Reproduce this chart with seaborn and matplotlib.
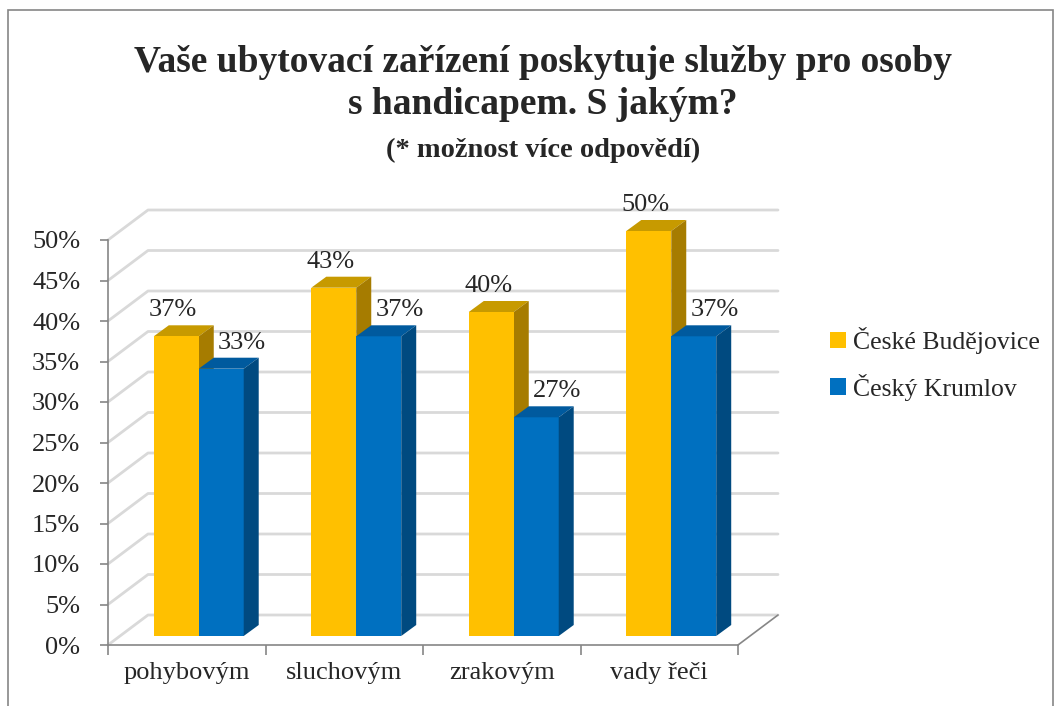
import numpy as np
import pandas as pd
import seaborn as sns
import matplotlib.pyplot as plt
from matplotlib.patches import Polygon, Patch, Rectangle

# data
categories = ["pohybovým", "sluchovým", "zrakovým", "vady řeči"]
series_names = ["České Budějovice", "Český Krumlov"]
budejovice = [37, 43, 40, 50]
krumlov = [33, 37, 27, 37]
y_ticks = list(range(0, 55, 5))

colors = {"České Budějovice": "#FFC000", "Český Krumlov": "#0070C0"}
top_col = {"České Budějovice": "#C79A00", "Český Krumlov": "#005A9E"}
side_col = {"České Budějovice": "#A67C00", "Český Krumlov": "#004A80"}

df = pd.DataFrame({
    "kat": categories * 2,
    "mesto": [series_names[0]] * 4 + [series_names[1]] * 4,
    "hodnota": budejovice + krumlov,
})

sns.set_style("white")
plt.rcParams["font.family"] = ["Liberation Serif", "DejaVu Serif"]

W, H = 1060, 706
fig = plt.figure(figsize=(W / 100, H / 100), dpi=100)


def box(l, b_px, w, h):
    # pixel box (left, bottom y in image coords) -> figure fraction
    return [l / W, (H - b_px) / H, w / W, h / H]


# front plane axes (ticks, floor edge)
ax = fig.add_axes(box(108, 645, 630, 405))
ax.set_xlim(-0.5, 3.5)
ax.set_ylim(0, 50)
ax.patch.set_alpha(0)
for s in ["top", "right"]:
    ax.spines[s].set_visible(False)
for s in ["left", "bottom"]:
    ax.spines[s].set_color("#868686")
    ax.spines[s].set_linewidth(1.2)
ax.set_yticks(y_ticks)
ax.set_yticklabels([f"{t}%" for t in y_ticks], fontsize=19)
ax.tick_params(axis="y", length=6, width=1.2, color="#868686", pad=14, left=True)
ax.set_xticks([-0.5, 0.5, 1.5, 2.5, 3.5])
ax.set_xticklabels([])
ax.set_xticks(range(len(categories)), minor=True)
ax.set_xticklabels(categories, minor=True, fontsize=19)
ax.tick_params(axis="x", which="major", length=7, width=1.2, color="#868686", bottom=True)
ax.tick_params(axis="x", which="minor", length=0, pad=12)

# back wall / side wall gridlines
DX, DY = 40 / 157.5, 30 / 8.1
gc = "#D9D9D9"
for t in y_ticks:
    ax.plot([-0.5, -0.5 + DX, 3.5 + DX], [t, t + DY, t + DY], color=gc,
            lw=2, clip_on=False, zorder=0)
ax.plot([3.5, 3.5 + DX], [0, DY], color="#868686", lw=1.2, clip_on=False, zorder=0)

# bars plane (slightly behind the front edge)
axb = fig.add_axes(box(120, 636, 630, 405))
sns.barplot(data=df, x="kat", y="hodnota", hue="mesto", palette=colors,
            width=0.571, legend=False, ax=axb, saturation=1, linewidth=0)
axb.set_xlim(-0.5, 3.5)
axb.set_ylim(0, 50)
axb.axis("off")
axb.patch.set_alpha(0)

bx, by = 15 / 157.5, 11 / 8.1
bars = [p for p in axb.patches if p.get_height() > 0]
for i, p in enumerate(bars):
    name = series_names[0] if i < len(categories) else series_names[1]
    p.set_zorder(3)
    p.set_clip_on(False)
    x0, w, h = p.get_x(), p.get_width(), p.get_height()
    x1 = x0 + w
    z = 2 if name == series_names[0] else 4
    top = Polygon([(x0, h), (x1, h), (x1 + bx, h + by), (x0 + bx, h + by)],
                  closed=True, fc=top_col[name], ec="none", zorder=z, clip_on=False)
    side = Polygon([(x1, 0), (x1 + bx, by), (x1 + bx, h + by), (x1, h)],
                   closed=True, fc=side_col[name], ec="none", zorder=z, clip_on=False)
    axb.add_patch(top)
    axb.add_patch(side)
    off = -0.02 if name == series_names[0] else 0.133
    axb.annotate(f"{h:.0f}%", (x0 + w / 2 + off, h + by), xytext=(0, 3),
                 textcoords="offset points", ha="center", va="bottom",
                 fontsize=19, zorder=5, annotation_clip=False)

# legend
handles = [Patch(facecolor=colors[n], edgecolor="none", label=n) for n in series_names]
fig.legend(handles=handles, loc="center left", bbox_to_anchor=(807 / W, 1 - 364 / H),
           frameon=False, fontsize=18.5, handlelength=0.6, handleheight=0.6,
           handletextpad=0.3, labelspacing=0.75)

# title
fig.text(543 / W, 1 - 62 / H, "Vaše ubytovací zařízení poskytuje služby pro osoby",
         ha="center", va="center", fontsize=27, fontweight="bold")
fig.text(543 / W, 1 - 104 / H, "s handicapem. S jakým?",
         ha="center", va="center", fontsize=27, fontweight="bold")
fig.text(543 / W, 1 - 150 / H, "(* možnost více odpovědí)", ha="center", va="center",
         fontsize=20.5, fontweight="bold")

# outer frame
fig.patches.append(Rectangle((8 / W, -0.05), 1045 / W, 1.05 - 10 / H,
                             transform=fig.transFigure, fill=False,
                             ec="#868686", lw=1.2))

fig.savefig("out.png", dpi=100)
